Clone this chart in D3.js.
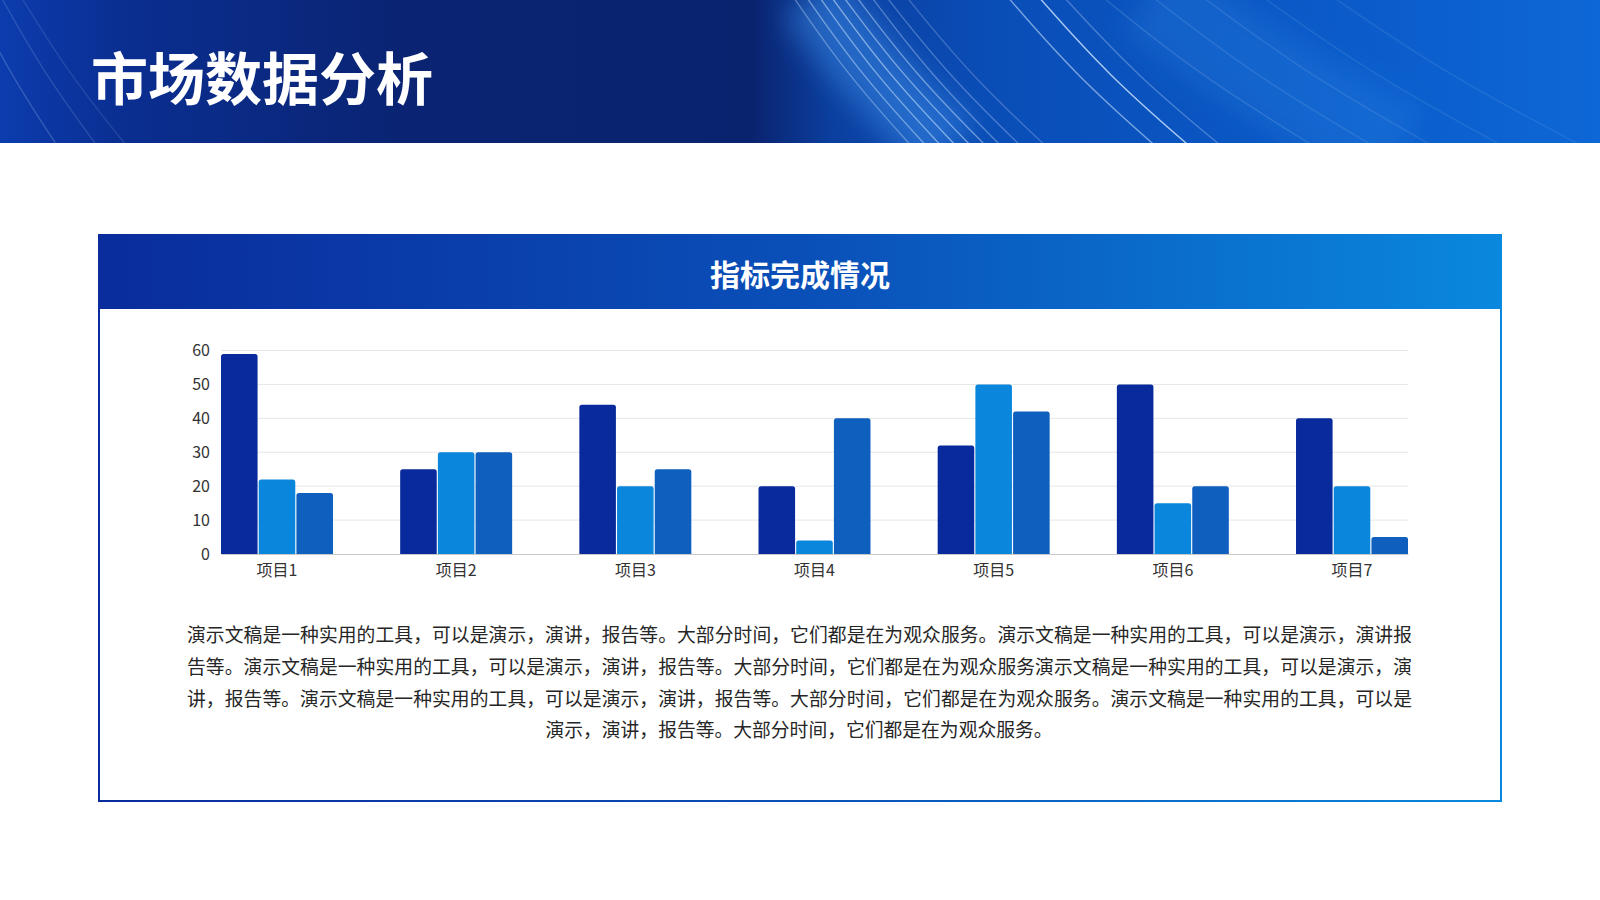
<!DOCTYPE html>
<html>
<head>
<meta charset="utf-8">
<script src="https://cdn.jsdelivr.net/npm/d3@7"></script>
<style>
  html, body { margin: 0; padding: 0; background: #fff; }
  svg { display: block; font-family: "Noto Sans CJK SC", "Noto Sans", sans-serif; }
</style>
</head>
<body>
<svg id="slide" width="1600" height="900"></svg>
<script>
// chart data
var categories = ["项目1", "项目2", "项目3", "项目4", "项目5", "项目6", "项目7"];
var series1 = [59, 25, 44, 20, 32, 50, 40];
var series2 = [22, 30, 20, 4, 50, 15, 20];
var series3 = [18, 30, 25, 40, 42, 20, 5];
var yTicks = [0, 10, 20, 30, 40, 50, 60];

var pageTitle = "市场数据分析";
var cardTitle = "指标完成情况";
var paraLines = [
    "演示文稿是一种实用的工具，可以是演示，演讲，报告等。大部分时间，它们都是在为观众服务。演示文稿是一种实用的工具，可以是演示，演讲报",
    "告等。演示文稿是一种实用的工具，可以是演示，演讲，报告等。大部分时间，它们都是在为观众服务演示文稿是一种实用的工具，可以是演示，演",
    "讲，报告等。演示文稿是一种实用的工具，可以是演示，演讲，报告等。大部分时间，它们都是在为观众服务。演示文稿是一种实用的工具，可以是",
    "演示，演讲，报告等。大部分时间，它们都是在为观众服务。"
];

// decorative streaks in the banner: [x at top, x at bottom, opacity]
var streaks = [
    [792, 915, 0.35], [805, 930, 0.45], [818, 945, 0.5], [830, 960, 0.55],
    [842, 975, 0.5], [855, 990, 0.45], [870, 1005, 0.35], [885, 1025, 0.3],
    [905, 1050, 0.25], [1006, 1160, 0.55], [1037, 1194, 0.8], [1062, 1226, 0.3],
    [1100, 1320, 0.15], [1150, 1380, 0.12], [1200, 1440, 0.12], [1260, 1510, 0.1],
    [1330, 1590, 0.1], [-30, 60, 0.2], [0, 100, 0.15], [20, 130, 0.12]
];

var colors = ["#082a9c", "#0a86dc", "#0e5fbe"];

var svg = d3.select("#slide");
var defs = svg.append("defs");

var bannerGrad = defs.append("linearGradient").attr("id", "bannerGrad");
[[0, "#0c3cae"], [0.08, "#0a2e90"], [0.25, "#0a2473"], [0.47, "#0a236f"],
 [0.52, "#0b3f9f"], [0.62, "#0a4db7"], [0.8, "#0a58c6"], [1, "#0e67d6"]]
    .forEach(function (s) {
        bannerGrad.append("stop").attr("offset", s[0]).attr("stop-color", s[1]);
    });

var cardGrad = defs.append("linearGradient").attr("id", "cardGrad");
cardGrad.append("stop").attr("offset", 0).attr("stop-color", "#0a2c9c");
cardGrad.append("stop").attr("offset", 0.5).attr("stop-color", "#0a4fb8");
cardGrad.append("stop").attr("offset", 1).attr("stop-color", "#0a88de");

defs.append("filter").attr("id", "blur").attr("x", "-50%").attr("y", "-50%")
    .attr("width", "200%").attr("height", "200%")
    .append("feGaussianBlur").attr("stdDeviation", 14);

defs.append("clipPath").attr("id", "bannerClip")
    .append("rect").attr("width", 1600).attr("height", 143);

// banner
var banner = svg.append("g").attr("clip-path", "url(#bannerClip)");
banner.append("rect").attr("width", 1600).attr("height", 143).attr("fill", "url(#bannerGrad)");

var streakLine = d3.line().curve(d3.curveBasis);
function streakPath(a, b) {
    return streakLine([[a, -5], [a + (b - a) * 0.45, 75], [b, 150]]);
}

// soft light band along the streak cluster
banner.append("path")
    .attr("d", streakPath(810, 950))
    .attr("fill", "none")
    .attr("stroke", "#3d95ee")
    .attr("stroke-width", 70)
    .attr("stroke-opacity", 0.45)
    .attr("filter", "url(#blur)");
banner.append("path")
    .attr("d", streakPath(1150, 1400))
    .attr("fill", "none")
    .attr("stroke", "#3d95ee")
    .attr("stroke-width", 90)
    .attr("stroke-opacity", 0.2)
    .attr("filter", "url(#blur)");

banner.selectAll("path.streak")
    .data(streaks)
    .join("path")
    .attr("class", "streak")
    .attr("d", function (d) { return streakPath(d[0], d[1]); })
    .attr("fill", "none")
    .attr("stroke", "#d3e9ff")
    .attr("stroke-width", 1.4)
    .attr("stroke-opacity", function (d) { return d[2]; });

svg.append("text")
    .attr("x", 91).attr("y", 75)
    .attr("dominant-baseline", "central")
    .attr("fill", "#fff")
    .attr("font-size", 57)
    .attr("font-weight", 700)
    .text(pageTitle);

// card
svg.append("rect")
    .attr("x", 99).attr("y", 235).attr("width", 1402).attr("height", 566)
    .attr("fill", "#fff")
    .attr("stroke", "url(#cardGrad)").attr("stroke-width", 2);
svg.append("rect")
    .attr("x", 98).attr("y", 234).attr("width", 1404).attr("height", 75)
    .attr("fill", "url(#cardGrad)");
svg.append("text")
    .attr("x", 800).attr("y", 273)
    .attr("text-anchor", "middle")
    .attr("dominant-baseline", "central")
    .attr("fill", "#fff")
    .attr("font-size", 30)
    .attr("font-weight", 700)
    .text(cardTitle);

// chart
var margin = {left: 221, top: 350.5},
    width = 1408 - 221,
    height = 554 - 350.5;

var x0 = d3.scaleBand().domain(categories).range([0, width])
    .paddingInner(0.375).paddingOuter(0);
var x1 = d3.scaleBand().domain([0, 1, 2]).range([0, x0.bandwidth()]).paddingInner(0.03);
var y = d3.scaleLinear().domain([0, 60]).range([height, 0]);

var chart = svg.append("g").attr("transform", "translate(" + margin.left + "," + margin.top + ")");

chart.append("g")
    .selectAll("line")
    .data(yTicks.slice(1))
    .join("line")
    .attr("x1", 0).attr("x2", width)
    .attr("y1", function (d) { return y(d); })
    .attr("y2", function (d) { return y(d); })
    .attr("stroke", "#e6e6e6").attr("stroke-width", 1);

var yAxis = d3.axisLeft(y).tickValues(yTicks).tickSize(0).tickPadding(11);
var gy = chart.append("g").call(yAxis);
gy.select(".domain").remove();
gy.selectAll("text")
    .attr("font-family", "'Noto Sans CJK SC', sans-serif")
    .attr("font-size", 16)
    .attr("fill", "#333");

var rows = categories.map(function (c, i) {
    return {cat: c, values: [series1[i], series2[i], series3[i]]};
});

function topRounded(x, y0, w, h, r) {
    r = Math.min(r, h);
    return "M" + x + "," + (y0 + h) +
        "V" + (y0 + r) +
        "Q" + x + "," + y0 + " " + (x + r) + "," + y0 +
        "H" + (x + w - r) +
        "Q" + (x + w) + "," + y0 + " " + (x + w) + "," + (y0 + r) +
        "V" + (y0 + h) + "Z";
}

chart.append("g")
    .selectAll("g")
    .data(rows)
    .join("g")
    .attr("transform", function (d) { return "translate(" + x0(d.cat) + ",0)"; })
    .selectAll("path")
    .data(function (d) { return d.values.map(function (v, k) { return {k: k, v: v}; }); })
    .join("path")
    .attr("d", function (d) {
        return topRounded(x1(d.k), y(d.v), x1.bandwidth(), height - y(d.v), 2.5);
    })
    .attr("fill", function (d) { return colors[d.k]; });

var xAxis = d3.axisBottom(x0).tickSize(0).tickPadding(11);
var gx = chart.append("g").attr("transform", "translate(0," + height + ")").call(xAxis);
gx.select(".domain").attr("stroke", "#c9c9c9");
gx.selectAll("text")
    .attr("font-family", "'Noto Sans CJK SC', sans-serif")
    .attr("font-size", 16)
    .attr("fill", "#333");

// paragraph
var paraX = 187, paraW = 1225, lineY = [633, 665, 697, 728];
svg.append("g")
    .selectAll("text")
    .data(paraLines)
    .join("text")
    .attr("x", function (d, i) { return i < paraLines.length - 1 ? paraX : 799; })
    .attr("y", function (d, i) { return lineY[i]; })
    .attr("text-anchor", function (d, i) { return i < paraLines.length - 1 ? "start" : "middle"; })
    .attr("dominant-baseline", "central")
    .attr("font-size", 18.8)
    .attr("fill", "#262626")
    .each(function (d, i) {
        if (i < paraLines.length - 1) {
            d3.select(this).attr("textLength", paraW).attr("lengthAdjust", "spacing");
        }
    })
    .text(function (d) { return d; });
</script>
</body>
</html>
